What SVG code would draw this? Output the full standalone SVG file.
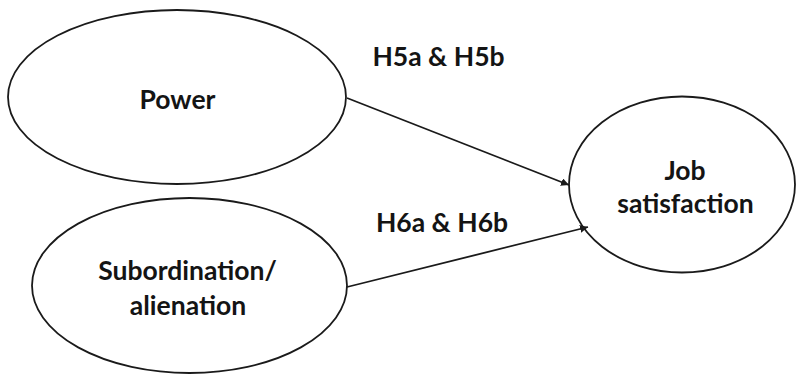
<svg xmlns="http://www.w3.org/2000/svg" width="796" height="376" viewBox="0 0 796 376">
  <style>
    .node { fill: #ffffff; stroke: #1a1a1a; stroke-width: 1.8; }
    .label { font-family: Lato, "Open Sans", "Liberation Sans", sans-serif; font-weight: bold; font-size: 26.5px; fill: #141414; text-anchor: middle; }
    .edge { stroke: #1a1a1a; stroke-width: 1.8; fill: none; marker-end: url(#arrow); }
  </style>
  <defs>
    <marker id="arrow" viewBox="0 0 10 10" refX="10" refY="5" markerWidth="8" markerHeight="8" markerUnits="userSpaceOnUse" orient="auto">
      <path d="M0,0 L10,5 L0,10 z" fill="#1a1a1a"/>
    </marker>
  </defs>
  <rect width="796" height="376" fill="#ffffff"/>

  <g id="power">
    <ellipse class="node" cx="177" cy="97" rx="169" ry="87"/>
    <text class="label" x="177.5" y="109">Power</text>
  </g>

  <g id="subordination">
    <ellipse class="node" cx="189.5" cy="285.5" rx="157.5" ry="87.5"/>
    <text class="label" x="187.5" y="280">Subordination/</text>
    <text class="label" x="188" y="315">alienation</text>
  </g>

  <g id="job-satisfaction">
    <ellipse class="node" cx="682" cy="184.5" rx="113" ry="88"/>
    <text class="label" x="685" y="180">Job</text>
    <text class="label" x="685.5" y="213">satisfaction</text>
  </g>

  <g id="connectors">
    <line class="edge" x1="347" y1="98" x2="569" y2="185"/>
    <line class="edge" x1="347" y1="287" x2="588" y2="227"/>
    <text class="label" x="438.5" y="66">H5a &amp; H5b</text>
    <text class="label" x="442" y="232">H6a &amp; H6b</text>
  </g>
</svg>
